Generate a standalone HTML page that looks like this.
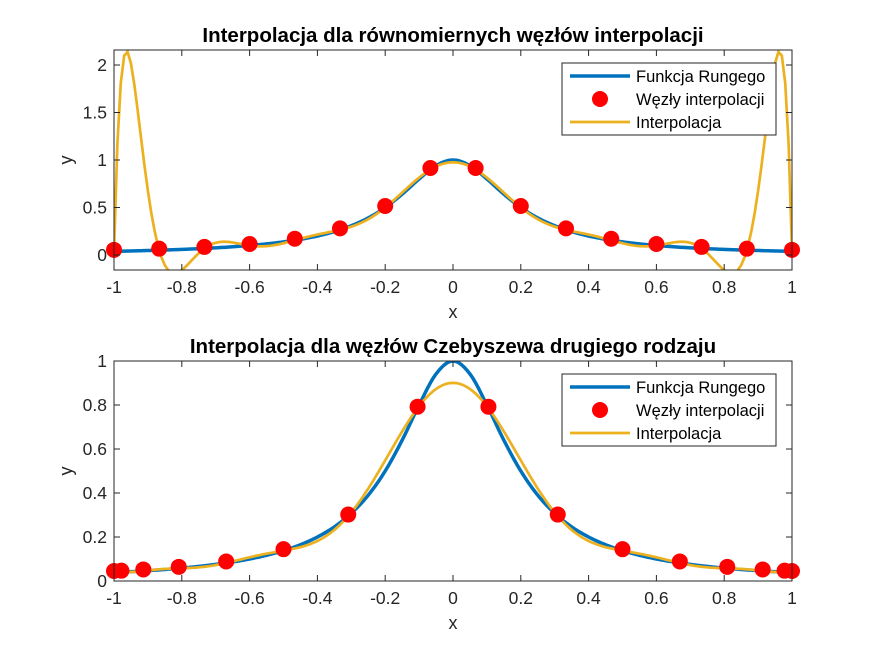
<!DOCTYPE html>
<html><head><meta charset="utf-8"><style>
body{margin:0;background:#fff;}
svg{display:block;font-family:"Liberation Sans",Arial,sans-serif;}
</style></head><body>
<svg id="fig" width="875" height="656" viewBox="0 0 875 656"></svg>
<script>
const runX=[-1,-0.95,-0.9,-0.85,-0.8,-0.75,-0.7,-0.65,-0.6,-0.55,-0.5,-0.45,-0.4,-0.35,-0.3,-0.25,-0.2,-0.15,-0.1,-0.05,0,0.05,0.1,0.15,0.2,0.25,0.3,0.35,0.4,0.45,0.5,0.55,0.6,0.65,0.7,0.75,0.8,0.85,0.9,0.95,1];
const runY=[0.0385,0.0424,0.0471,0.0525,0.0588,0.0664,0.0755,0.0865,0.1,0.117,0.138,0.165,0.2,0.246,0.308,0.39,0.5,0.64,0.8,0.941,1,0.941,0.8,0.64,0.5,0.39,0.308,0.246,0.2,0.165,0.138,0.117,0.1,0.0865,0.0755,0.0664,0.0588,0.0525,0.0471,0.0424,0.0385];
const eqNodesX=[-1,-0.8667,-0.7333,-0.6,-0.4667,-0.3333,-0.2,-0.0667,0.0667,0.2,0.3333,0.4667,0.6,0.7333,0.8667,1];
const eqNodesY=[0.0385,0.0506,0.0692,0.1,0.1552,0.2647,0.5,0.9,0.9,0.5,0.2647,0.1552,0.1,0.0692,0.0506,0.0385];
const chNodesX=[-1,-0.9781,-0.9135,-0.809,-0.6691,-0.5,-0.309,-0.1045,0.1045,0.309,0.5,0.6691,0.809,0.9135,0.9781,1];
const chNodesY=[0.0385,0.0401,0.0457,0.0576,0.0820,0.1379,0.2952,0.7855,0.7855,0.2952,0.1379,0.0820,0.0576,0.0457,0.0401,0.0385];
const topYTicks=[0,0.5,1,1.5,2], topYLabels=["0","0.5","1","1.5","2"];
const botYTicks=[0,0.2,0.4,0.6,0.8,1], botYLabels=["0","0.2","0.4","0.6","0.8","1"];
const xTicks=[-1,-0.8,-0.6,-0.4,-0.2,0,0.2,0.4,0.6,0.8,1], xLabels=["-1","-0.8","-0.6","-0.4","-0.2","0","0.2","0.4","0.6","0.8","1"];

const NS="http://www.w3.org/2000/svg";
const svg=document.getElementById('fig');
function mk(tag,attrs,parent){const e=document.createElementNS(NS,tag);for(const k in attrs)e.setAttribute(k,attrs[k]);(parent||svg).appendChild(e);return e;}
function lagrange(xs,ys,x){let s=0;for(let i=0;i<xs.length;i++){let l=1;for(let j=0;j<xs.length;j++)if(j!==i)l*=(x-xs[j])/(xs[i]-xs[j]);s+=ys[i]*l;}return s;}
function catmull(xs,ys,x){let i=0;while(i<xs.length-2&&x>xs[i+1])i++;const t=(x-xs[i])/(xs[i+1]-xs[i]);const p0=ys[Math.max(i-1,0)],p1=ys[i],p2=ys[i+1],p3=ys[Math.min(i+2,ys.length-1)];return 0.5*((2*p1)+(-p0+p2)*t+(2*p0-5*p1+4*p2-p3)*t*t+(-p0+3*p1-3*p2+p3)*t*t*t);}

function panel(cfg){
  const {L,R,T,B,ymin,ymax,title,nx,ny,yT,yL,id}=cfg;
  const sx=v=>L+(v+1)/2*(R-L), sy=v=>B-(v-ymin)/(ymax-ymin)*(B-T);
  const g=mk('g',{});
  
  
  mk('rect',{x:L,y:T,width:R-L,height:B-T,fill:'#fff'},g);
  const clipId=id+'-clip';
  const cp=mk('clipPath',{id:clipId},g);mk('rect',{x:L,y:T,width:R-L,height:B-T},cp);
  const plot=mk('g',{'clip-path':'url(#'+clipId+')'},g);
  let d='';for(let k=0;k<=400;k++){const x=-1+2*k/400;d+=(k?'L':'M')+sx(x).toFixed(2)+','+sy(catmull(runX,runY,x)).toFixed(2);}
  const p1=mk('path',{d:d,fill:'none',stroke:'#0072BD','stroke-width':3.5},plot);
  
  
  nx.forEach((x,i)=>{const c=mk('circle',{cx:sx(x),cy:sy(ny[i])-1.5,r:8,fill:'#FF0000'},g);
    
    });
  d='';for(let k=0;k<=200;k++){const x=-1+2*k/200;d+=(k?'L':'M')+sx(x).toFixed(2)+','+sy(lagrange(nx,ny,x)).toFixed(2);}
  const p2=mk('path',{d:d,fill:'none',stroke:'#EDB120','stroke-width':2.7},plot);
  
  
  mk('rect',{x:L,y:T,width:R-L,height:B-T,fill:'none',stroke:'#262626','stroke-width':1},g);
  xTicks.forEach((v,i)=>{const X=sx(v);
    mk('line',{x1:X,x2:X,y1:B,y2:B-6,stroke:'#262626'},g);mk('line',{x1:X,x2:X,y1:T,y2:T+6,stroke:'#262626'},g);
    const t=mk('text',{x:X,y:B+23,'text-anchor':'middle','font-size':17.5,fill:'#262626'},g);t.textContent=xLabels[i];
    
    });
  yT.forEach((v,i)=>{const Y=sy(v);
    mk('line',{x1:L,x2:L+6,y1:Y,y2:Y,stroke:'#262626'},g);mk('line',{x1:R,x2:R-6,y1:Y,y2:Y,stroke:'#262626'},g);
    const t=mk('text',{x:L-7,y:Y+6,'text-anchor':'end','font-size':17.5,fill:'#262626'},g);t.textContent=yL[i];
    
    });
  const tt=mk('text',{x:(L+R)/2,y:T-8,'text-anchor':'middle','font-size':20.5,'font-weight':'bold',fill:'#000'},g);tt.textContent=title;
  
  
  const xl=mk('text',{x:(L+R)/2,y:B+48,'text-anchor':'middle','font-size':18,fill:'#262626'},g);xl.textContent='x';
  
  
  const yl=mk('text',{x:0,y:0,'text-anchor':'middle','font-size':18,fill:'#262626',transform:'translate(72,'+((T+B)/2)+') rotate(-90)'},g);yl.textContent='y';
  
  
  const lg=mk('g',{},g);
  
  
  const lx=562,ly=T+13;
  mk('rect',{x:lx,y:ly,width:214,height:72,fill:'#fff',stroke:'#262626'},lg);
  const rows=[['Funkcja Rungego','line','#0072BD',3.5],['Węzły interpolacji','dot','#FF0000',0],['Interpolacja','line','#EDB120',2.7]];
  rows.forEach((r,i)=>{const Y=ly+13+i*23;
    if(r[1]==='line')mk('line',{x1:lx+8,x2:lx+68,y1:Y,y2:Y,stroke:r[2],'stroke-width':r[3]},lg);
    else mk('circle',{cx:lx+38,cy:Y,r:8,fill:r[2]},lg);
    const t=mk('text',{x:lx+74,y:Y+6,'font-size':16.5,fill:'#000'},lg);t.textContent=r[0];
    
    });
}
panel({id:'top',L:114,R:792,T:50,B:270,ymin:-0.158,ymax:2.158,title:'Interpolacja dla równomiernych węzłów interpolacji',nx:eqNodesX,ny:eqNodesY,yT:topYTicks,yL:topYLabels});
panel({id:'bottom',L:114,R:792,T:361,B:581,ymin:0,ymax:1,title:'Interpolacja dla węzłów Czebyszewa drugiego rodzaju',nx:chNodesX,ny:chNodesY,yT:botYTicks,yL:botYLabels});
</script>
</body></html>
